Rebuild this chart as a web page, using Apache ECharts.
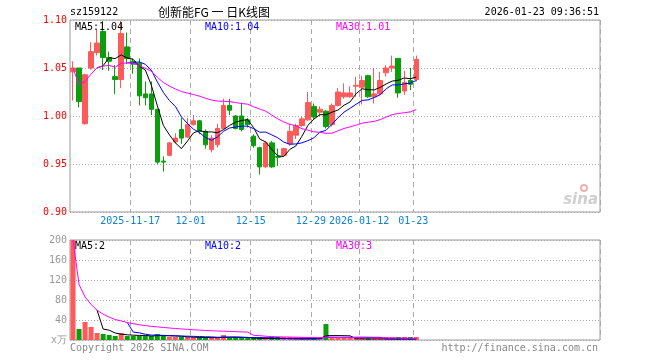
<!DOCTYPE html>
<html><head><meta charset="utf-8">
<script src="https://cdn.jsdelivr.net/npm/echarts@6/dist/echarts.min.js"></script>
<style>html,body{margin:0;padding:0;background:#fff}#c{width:660px;height:360px}</style>
</head><body><div id="c"></div>
<script>
// ---- data ----
const dates = ['2025-11-03','2025-11-04','2025-11-05','2025-11-06','2025-11-07','2025-11-10','2025-11-11','2025-11-12','2025-11-13','2025-11-14',
'2025-11-17','2025-11-18','2025-11-19','2025-11-20','2025-11-21','2025-11-24','2025-11-25','2025-11-26','2025-11-27','2025-11-28',
'2025-12-01','2025-12-02','2025-12-03','2025-12-04','2025-12-05','2025-12-08','2025-12-09','2025-12-10','2025-12-11','2025-12-12',
'2025-12-15','2025-12-16','2025-12-17','2025-12-18','2025-12-19','2025-12-22','2025-12-23','2025-12-24','2025-12-25','2025-12-26',
'2025-12-29','2025-12-30','2025-12-31','2026-01-05','2026-01-06','2026-01-07','2026-01-08','2026-01-09','2026-01-12','2026-01-13',
'2026-01-14','2026-01-15','2026-01-16','2026-01-19','2026-01-20','2026-01-21','2026-01-22','2026-01-23'];
const opens  = [1.046,1.050,0.992,1.050,1.066,1.088,1.061,1.041,1.038,1.072,
1.057,1.055,1.023,1.023,1.007,0.953,0.959,0.973,0.986,0.978,
0.991,0.995,0.984,0.965,0.970,0.987,1.011,1.000,1.000,0.996,
0.979,0.967,0.947,0.972,0.958,0.959,0.971,0.980,0.990,0.996,
1.010,1.004,1.005,0.991,1.011,1.020,1.020,1.031,1.030,1.042,
1.020,1.023,1.045,1.050,1.060,1.026,1.037,1.038];
const closes = [1.050,1.015,1.043,1.067,1.076,1.061,1.057,1.038,1.086,1.060,
1.054,1.021,1.019,1.007,0.952,0.952,0.972,0.977,0.977,0.991,
0.995,0.984,0.970,0.977,0.987,1.011,1.006,0.987,0.986,0.991,
0.969,0.947,0.972,0.947,0.957,0.966,0.984,0.990,0.997,1.014,
0.999,1.007,0.989,1.011,1.025,1.024,1.024,1.032,1.037,1.020,
1.023,1.037,1.050,1.052,1.024,1.035,1.033,1.059];
const lows   = [1.016,1.009,0.991,1.048,1.063,1.048,1.047,1.023,1.029,1.054,
1.044,1.011,1.011,1.001,0.950,0.942,0.958,0.971,0.971,0.977,
0.990,0.981,0.966,0.962,0.967,0.986,1.001,0.986,0.984,0.988,
0.967,0.939,0.946,0.946,0.948,0.958,0.969,0.976,0.989,0.995,
0.997,1.000,0.987,0.989,1.010,1.018,1.019,1.020,1.012,1.019,
1.013,1.022,1.041,1.046,1.019,1.022,1.027,1.036];
const highs  = [1.057,1.050,1.044,1.077,1.090,1.099,1.067,1.053,1.099,1.087,
1.060,1.060,1.036,1.036,1.007,0.958,0.973,0.982,0.998,0.998,
1.001,0.996,0.986,0.980,0.992,1.018,1.018,1.001,1.014,0.998,
0.981,0.968,0.974,0.974,0.966,0.967,0.992,0.992,0.999,1.025,
1.013,1.010,1.006,1.013,1.029,1.034,1.031,1.041,1.042,1.043,
1.050,1.046,1.053,1.063,1.060,1.047,1.050,1.063];
const volumes = [200,22,36,26,14,12,10,8,14,8,
8,8,8,8,12,8,6,6,6,6,
5,4,4,5,5,10,5,5,3,3,
3,3,3,3,3,2,2,2,2,3,
3,3,32,3,3,2,2,2,3,2,
2,2,2,2,3,2,2,2];
const tickDates  = ['2025-11-17','2025-12-01','2025-12-15','2025-12-29','2026-01-12','2026-01-23'];
const tickLabels = ['2025-11-17','12-01','12-15','12-29','2026-01-12','01-23'];
const priceMin = 0.90, priceMax = 1.10, priceStep = 0.05;
const volMax = 200, volStep = 40;
const totalSlots = 88;

// ---- derived ----
const cats = dates.slice();
for (let i = dates.length; i < totalSlots; i++) cats.push('pad' + i);
const tickIdx = tickDates.map(d => dates.indexOf(d));
const kData = dates.map((d, i) => [opens[i], closes[i], lows[i], highs[i]]);
function ma(arr, n, start) {
  return arr.map((v, i) => {
    if (i < start) return '-';
    const s = Math.max(0, i - n + 1);
    let sum = 0; for (let j = s; j <= i; j++) sum += arr[j];
    return +(sum / (i - s + 1)).toFixed(4);
  });
}
const ma5 = ma(closes, 5, 4), ma10 = ma(closes, 10, 9), ma30 = ma(closes, 30, 0);
const vma5 = ma(volumes, 5, 4), vma10 = ma(volumes, 10, 9), vma30 = ma(volumes, 30, 0);
const last = a => a[a.length - 1];

const RED = '#ff5a5a', GREEN = '#0a9e0a', BLUE = '#0000ff', MAG = '#ff00ff';
const MONO = '"DejaVu Sans Mono", monospace';
const CJK = '"Noto Sans CJK SC", sans-serif';

function txt(x, y, text, color, align, font) {
  return { type: 'text', x: x, y: y, silent: true, z: 100,
    style: { text: text, fill: color, font: font || ('10px ' + MONO), align: align || 'left', verticalAlign: 'middle' } };
}

const chart = echarts.init(document.getElementById('c'), null, { renderer: 'canvas' });
const splitX = (idx) => tickIdx.indexOf(idx) >= 0;
const xAxisBase = (gi) => ({
  type: 'category', gridIndex: gi, data: cats, boundaryGap: true,
  axisLine: { show: false }, axisTick: { show: false },
  splitLine: { show: true, interval: (i) => splitX(i), lineStyle: { color: '#aaa', type: [5, 4], width: 1 } }
});

chart.setOption({
  animation: false,
  backgroundColor: '#fff',
  grid: [
    { left: 70, top: 20, width: 530, height: 192, show: true, borderColor: '#9a9a9a', borderWidth: 1 },
    { left: 70, top: 240, width: 530, height: 100, show: true, borderColor: '#9a9a9a', borderWidth: 1 }
  ],
  xAxis: [
    Object.assign(xAxisBase(0), {
      axisLabel: { show: true, interval: (i) => splitX(i), color: '#0a84d6', fontFamily: 'DejaVu Sans Mono', fontSize: 10, margin: 4,
        padding: [0, 6, 0, 0],
        formatter: (v) => { const k = tickDates.indexOf(v); return k >= 0 ? tickLabels[k] : ''; } }
    }),
    Object.assign(xAxisBase(1), { axisLabel: { show: false } })
  ],
  yAxis: [
    { type: 'value', gridIndex: 0, min: priceMin, max: priceMax, interval: priceStep, scale: true,
      axisLine: { show: false }, axisTick: { show: false },
      axisLabel: { color: '#ff0000', fontFamily: 'DejaVu Sans Mono', fontSize: 10, margin: 3, formatter: v => v.toFixed(2) },
      splitLine: { show: true, lineStyle: { color: '#aaa', type: [1, 2] } } },
    { type: 'value', gridIndex: 1, min: 0, max: volMax, interval: volStep,
      axisLine: { show: false }, axisTick: { show: false },
      axisLabel: { color: '#999', fontFamily: 'DejaVu Sans Mono', fontSize: 10, margin: 3, formatter: v => v === 0 ? 'x万' : String(v) },
      splitLine: { show: true, lineStyle: { color: '#aaa', type: [1, 2] } } }
  ],
  series: [
    { type: 'candlestick', xAxisIndex: 0, yAxisIndex: 0, data: kData, barWidth: 5,
      itemStyle: { color: RED, color0: GREEN, borderColor: RED, borderColor0: GREEN, borderWidth: 1 } },
    { type: 'line', xAxisIndex: 0, yAxisIndex: 0, data: ma5, symbol: 'none', lineStyle: { color: '#000', width: 1 } },
    { type: 'line', xAxisIndex: 0, yAxisIndex: 0, data: ma10, symbol: 'none', lineStyle: { color: BLUE, width: 1 } },
    { type: 'line', xAxisIndex: 0, yAxisIndex: 0, data: ma30, symbol: 'none', lineStyle: { color: MAG, width: 1 } },
    { type: 'bar', xAxisIndex: 1, yAxisIndex: 1, barWidth: 5, barMinHeight: 3,
      data: volumes.map((v, i) => ({ value: v, itemStyle: { color: closes[i] >= opens[i] ? RED : GREEN } })) },
    { type: 'line', xAxisIndex: 1, yAxisIndex: 1, data: vma5, symbol: 'none', lineStyle: { color: '#000', width: 1 } },
    { type: 'line', xAxisIndex: 1, yAxisIndex: 1, data: vma10, symbol: 'none', lineStyle: { color: BLUE, width: 1 } },
    { type: 'line', xAxisIndex: 1, yAxisIndex: 1, data: vma30, symbol: 'none', lineStyle: { color: MAG, width: 1 } }
  ],
  graphic: [
    txt(70, 12, 'sz159122', '#000'),
    txt(214, 12, '创新能FG 一 日K线图', '#000', 'center', '12px ' + CJK),
    txt(599, 12, '2026-01-23 09:36:51', '#000', 'right'),
    txt(75, 27, 'MA5:' + last(ma5).toFixed(2), '#000'),
    txt(205, 27, 'MA10:' + last(ma10).toFixed(2), BLUE),
    txt(336, 27, 'MA30:' + last(ma30).toFixed(2), MAG),
    txt(75, 246, 'MA5:' + Math.round(last(vma5)), '#000'),
    txt(205, 246, 'MA10:' + Math.round(last(vma10)), BLUE),
    txt(336, 246, 'MA30:' + Math.round(last(vma30)), MAG),
    txt(70, 348, 'Copyright 2026 SINA.COM', '#888'),
    txt(598, 348, 'http://finance.sina.com.cn', '#888', 'right'),
    { type: 'circle', shape: { cx: 584, cy: 188, r: 3 }, style: { fill: 'none', stroke: '#f2b0b0', lineWidth: 2 }, silent: true },
    txt(598, 200, 'sina', '#cfcfcf', 'right', 'italic bold 15px "DejaVu Sans", sans-serif')
  ]
});
</script></body></html>
